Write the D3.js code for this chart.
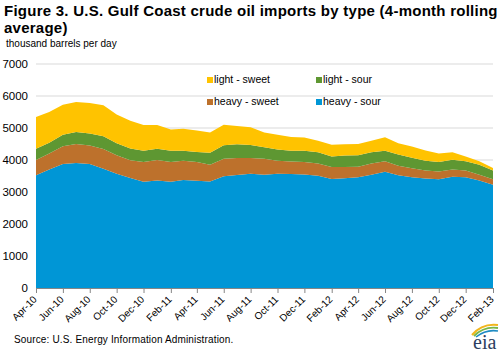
<!DOCTYPE html>
<meta charset="utf-8">
<script src="https://d3js.org/d3.v7.min.js"></script>
<style>
  body { margin: 0; background: #fff; }
  text { font-family: Arial, "Liberation Sans", sans-serif; }
</style>
<div id="chart"></div>
<script>

// months, Apr-10 .. Feb-13
var months = ["2010-04","2010-05","2010-06","2010-07","2010-08","2010-09","2010-10","2010-11","2010-12",
  "2011-01","2011-02","2011-03","2011-04","2011-05","2011-06","2011-07","2011-08","2011-09","2011-10","2011-11","2011-12",
  "2012-01","2012-02","2012-03","2012-04","2012-05","2012-06","2012-07","2012-08","2012-09","2012-10","2012-11","2012-12",
  "2013-01","2013-02"];

// thousand barrels per day
var heavySour  = [3520,3700,3875,3910,3875,3730,3570,3440,3320,3360,3320,3375,3350,3330,3490,3530,3570,3540,3570,3560,3550,
                  3510,3410,3430,3460,3540,3630,3520,3460,3420,3400,3480,3460,3360,3230];
var heavySweet = [480,500,555,590,575,610,580,550,620,640,620,605,590,520,550,530,490,500,410,390,390,
                  380,370,350,330,350,330,300,280,250,240,220,210,180,170];
var lightSour  = [350,340,360,375,380,400,370,370,350,350,350,310,310,380,420,430,410,360,350,340,350,
                  350,330,360,360,350,330,350,330,310,300,310,290,310,270];
var lightSweet = [990,960,940,935,950,970,900,870,800,740,660,690,670,630,640,570,550,460,460,430,410,
                  360,370,350,350,360,420,350,350,320,260,230,150,110,80];

var seriesKeys   = ["heavySour","heavySweet","lightSour","lightSweet"];
var seriesNames  = {heavySour: "heavy - sour", heavySweet: "heavy - sweet", lightSour: "light - sour", lightSweet: "light - sweet"};
var seriesColors = {heavySour: "#0096d6", heavySweet: "#bd712c", lightSour: "#5e9732", lightSweet: "#ffc300"};
var yTicks = [0,1000,2000,3000,4000,5000,6000,7000];

var parse = d3.timeParse("%Y-%m");
var data = months.map(function(m, i) {
  return {date: parse(m), heavySour: heavySour[i], heavySweet: heavySweet[i], lightSour: lightSour[i], lightSweet: lightSweet[i]};
});

var width = 502, height = 352;
var svg = d3.select("#chart").append("svg")
  .attr("width", width)
  .attr("height", height);

var x = d3.scaleTime()
  .domain(d3.extent(data, function(d) { return d.date; }))
  .range([36, 493]);
var y = d3.scaleLinear()
  .domain([0, 7000])
  .range([288, 64]);

// title
svg.append("text").attr("x", 4).attr("y", 16)
  .attr("font-size", 15).attr("font-weight", "bold").attr("fill", "#000")
  .attr("letter-spacing", 0.25)
  .text("Figure 3. U.S. Gulf Coast crude oil imports by type (4-month rolling");
svg.append("text").attr("x", 4).attr("y", 33)
  .attr("font-size", 15).attr("font-weight", "bold").attr("fill", "#000")
  .attr("letter-spacing", 0.25)
  .text("average)");
svg.append("text").attr("x", 6).attr("y", 47)
  .attr("font-size", 10).attr("fill", "#000")
  .text("thousand barrels per day");

// gridlines
svg.append("g")
  .selectAll("line")
  .data(yTicks.slice(1))
  .enter().append("line")
    .attr("x1", 36).attr("x2", 493)
    .attr("y1", function(d) { return y(d); })
    .attr("y2", function(d) { return y(d); })
    .attr("stroke", "#d9d9d9").attr("stroke-width", 1);

// stacked areas
var stack = d3.stack().keys(seriesKeys);
var area = d3.area()
  .x(function(d) { return x(d.data.date); })
  .y0(function(d) { return y(d[0]); })
  .y1(function(d) { return y(d[1]); });

svg.append("g")
  .selectAll("path")
  .data(stack(data))
  .enter().append("path")
    .attr("d", area)
    .attr("fill", function(d) { return seriesColors[d.key]; });

// y axis
var yAxis = svg.append("g")
  .attr("transform", "translate(36,0)")
  .call(d3.axisLeft(y).tickValues(yTicks).tickSize(0).tickPadding(8).tickFormat(d3.format("d")));
yAxis.select(".domain").remove();
yAxis.selectAll("text").attr("font-size", 11.5).attr("fill", "#000").style("font-family", "Arial, 'Liberation Sans', sans-serif");

// x axis
var xTicks = data.filter(function(d, i) { return i % 2 === 0; }).map(function(d) { return d.date; });
var xAxis = svg.append("g")
  .attr("transform", "translate(0,288)")
  .call(d3.axisBottom(x).tickValues(xTicks).tickSizeOuter(0).tickSize(5).tickFormat(d3.timeFormat("%b-%y")));
xAxis.select(".domain").attr("stroke", "#868686");
xAxis.selectAll(".tick line").attr("stroke", "#868686");
xAxis.selectAll("text")
  .attr("font-size", 10).attr("fill", "#000")
  .style("font-family", "Arial, 'Liberation Sans', sans-serif")
  .attr("text-anchor", "end")
  .attr("x", 0).attr("y", 0).attr("dy", 0)
  .attr("transform", "translate(1,12) rotate(-45)");

// legend
var legendItems = [
  {key: "lightSweet", x: 207, y: 83},
  {key: "lightSour",  x: 316, y: 83},
  {key: "heavySweet", x: 207, y: 105},
  {key: "heavySour",  x: 316, y: 105}
];
var legend = svg.append("g")
  .selectAll("g")
  .data(legendItems)
  .enter().append("g")
    .attr("transform", function(d) { return "translate(" + d.x + "," + d.y + ")"; });
legend.append("rect")
  .attr("x", 0).attr("y", -6).attr("width", 6).attr("height", 6)
  .attr("fill", function(d) { return seriesColors[d.key]; });
legend.append("text")
  .attr("x", 7).attr("y", 0)
  .attr("font-size", 10.5).attr("fill", "#000")
  .text(function(d) { return seriesNames[d.key]; });

// source
svg.append("text").attr("x", 14).attr("y", 343)
  .attr("font-size", 10).attr("fill", "#000")
  .attr("letter-spacing", 0.15)
  .text("Source: U.S. Energy Information Administration.");

// eia logo
var logo = svg.append("g").attr("transform", "translate(470,323)");
logo.append("path").attr("d", "M2,12 Q12,0 28,2").attr("fill", "none").attr("stroke", "#f2b61d").attr("stroke-width", 2);
logo.append("path").attr("d", "M4,13 Q14,3 28,5").attr("fill", "none").attr("stroke", "#7ab648").attr("stroke-width", 1.8);
logo.append("path").attr("d", "M6,14 Q16,6 28,8").attr("fill", "none").attr("stroke", "#1e8bc3").attr("stroke-width", 1.6);
logo.append("text").attr("x", 3).attr("y", 26)
  .attr("font-size", 20).attr("fill", "#2c3e60")
  .style("font-family", "'Liberation Serif', 'DejaVu Serif', serif")
  .text("eia");

</script>
